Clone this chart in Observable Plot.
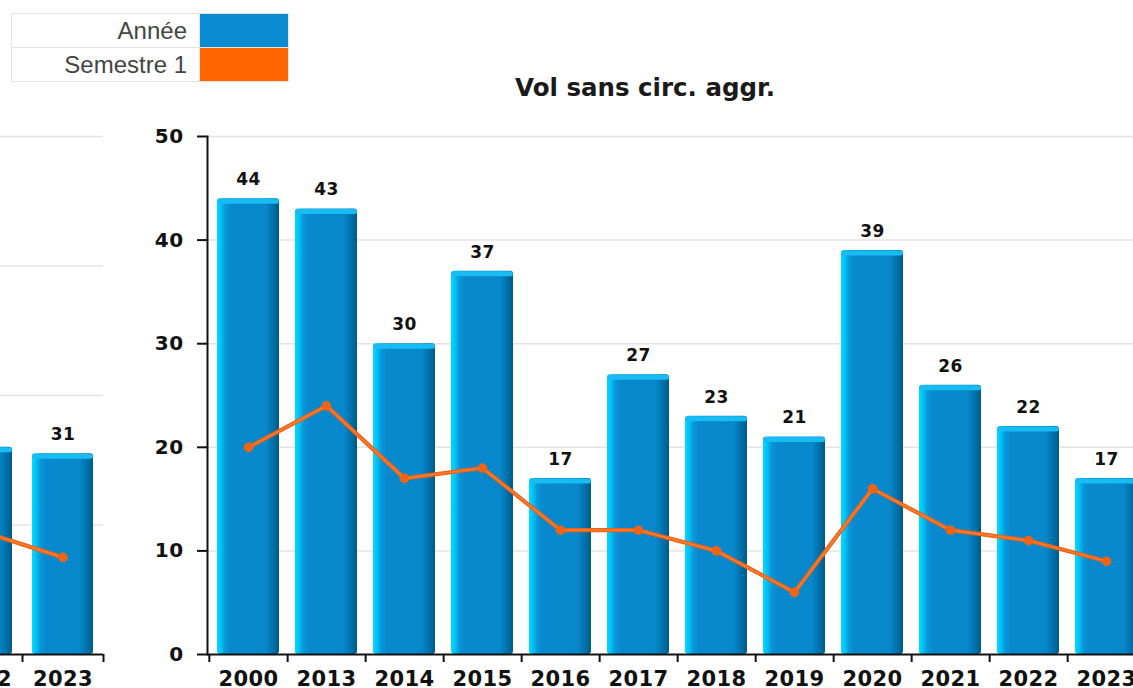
<!DOCTYPE html>
<html><head><meta charset="utf-8">
<script src="https://cdn.jsdelivr.net/npm/d3@7"></script>
<script src="https://cdn.jsdelivr.net/npm/@observablehq/plot@0.6"></script>
<style>
html,body{margin:0;padding:0;background:#fff;overflow:hidden;width:1133px;height:688px;}
#wrap{position:relative;width:1133px;height:688px;overflow:hidden;background:#fff;}
#left{position:absolute;left:-100px;top:0;}
#main{position:absolute;left:0;top:0;}
#title{position:absolute;left:0;width:1290px;top:76px;text-align:center;font:bold 24.5px/24px "DejaVu Sans";color:#1a1a1a;}
#legend{position:absolute;left:11px;top:13px;border-collapse:collapse;font:24px "Liberation Sans",Arial,sans-serif;color:#444;}
#legend td{border:1px solid #e4e4e4;height:33px;padding:0;}
#legend td.lab{width:175px;text-align:right;padding-right:12px;}
#legend td.sw{width:88px;}
</style></head><body>
<div id="wrap">
  <div id="left"></div>
  <div id="main"></div>
  <div id="title">Vol sans circ. aggr.</div>
  <table id="legend"></table>
</div>
<script>
// ---- data ----
const years = ["2000","2013","2014","2015","2016","2017","2018","2019","2020","2021","2022","2023"];
const annee = [44,43,30,37,17,27,23,21,39,26,22,17];
const semestre1 = [20,24,17,18,12,12,10,6,16,12,11,9];
const yTicks = [0,10,20,30,40,50];

const prevYears = ["2022","2023"];
const prevAnnee = [32,31];
const prevSemestre1 = [19,15];
const prevYTicks = [0,20,40,60,80];

const legendLabels = ["Année","Semestre 1"];
const legendColors = ["#0a8bd1","#ff6600"];
const lineColor = "#ef6414";
const lineHighlight = "#ff9a5e";
const capColor = "#17bdf2";

// ---- legend ----
const tbl = document.getElementById("legend");
legendLabels.forEach((l,i)=>{
  const tr = document.createElement("tr");
  const a = document.createElement("td"); a.className="lab"; a.textContent=l;
  const b = document.createElement("td"); b.className="sw"; b.style.background=legendColors[i];
  tr.appendChild(a); tr.appendChild(b); tbl.appendChild(tr);
});

function addGradient(svg, id){
  const ns="http://www.w3.org/2000/svg";
  const defs=document.createElementNS(ns,"defs");
  const g=document.createElementNS(ns,"linearGradient");
  g.setAttribute("id",id); g.setAttribute("x1","0"); g.setAttribute("x2","1"); g.setAttribute("y1","0"); g.setAttribute("y2","0");
  [[0,"#00dcff"],[0.06,"#00c4f8"],[0.14,"#0a95d8"],[0.22,"#0889cd"],[0.78,"#0888cc"],[0.9,"#0072ab"],[1,"#005a88"]].forEach(([o,c])=>{
    const s=document.createElementNS(ns,"stop"); s.setAttribute("offset",o); s.setAttribute("stop-color",c); g.appendChild(s);
  });
  defs.appendChild(g); svg.insertBefore(defs, svg.firstChild);
}

function chart({cats, vals, semi, ticks, ymax, width, marginLeft, marginRight, pIn, pOut, gid, showYAxis}){
  const data = cats.map((c,i)=>({cat:c, v:vals[i], s:semi[i]}));
  const step = (width - marginLeft - marginRight)/cats.length;
  const marks = [
    Plot.gridY({ticks: ticks.slice(1), stroke:"#e4e4e4", strokeOpacity:1, strokeWidth:1.5}),
    Plot.barY(data, {x:"cat", y:"v", fill:`url(#${gid})`, rx:3}),
    Plot.tickY(data, {x:"cat", y:"v", stroke:capColor, strokeWidth:5, dy:2.5, insetLeft:2.5, insetRight:2.5, strokeLinecap:"round"}),
    Plot.text(data, {x:"cat", y:"v", text:d=>String(d.v), dy:-19, fontSize:17, fill:"#111"}),
    Plot.line(data, {x:"cat", y:"s", stroke:lineColor, strokeWidth:4.2}),
    Plot.line(data, {x:"cat", y:"s", stroke:lineHighlight, strokeWidth:1.2, strokeOpacity:0.55}),
    Plot.dot(data, {x:"cat", y:"s", r:4.8, fill:lineColor}),
    Plot.ruleY([0], {stroke:"#111", strokeWidth:2}),
    Plot.axisX({tickSize:0, tickPadding:17, fontSize:21}),
    Plot.axisX({tickSize:8, tickFormat:()=>"", dx: step/2, strokeWidth:2}),
    Plot.axisX({ticks:[cats[0]], tickSize:8, tickFormat:()=>"", dx: -step/2, strokeWidth:2})
  ];
  if (showYAxis) {
    marks.push(Plot.axisY({ticks, tickSize:10, tickPadding:14, fontSize:20, strokeWidth:2}));
    marks.push(Plot.frame({anchor:"left", stroke:"#111", strokeWidth:2}));
  }
  const svg = Plot.plot({
    width, height:700,
    marginLeft, marginRight, marginTop:136, marginBottom:46,
    style:{background:"transparent", maxWidth:"none", overflow:"visible", fontFamily:"DejaVu Sans", fontWeight:"bold", color:"#111", fontSize:"20px", letterSpacing:"0.4px"},
    x:{domain:cats, paddingInner:pIn, paddingOuter:pOut, label:null},
    y:{domain:[0,ymax], label:null},
    marks
  });
  // drop the empty label nodes of the boundary-tick axes
  svg.querySelectorAll("text").forEach(t => { if (!t.textContent.trim()) t.remove(); });
  addGradient(svg, gid);
  return svg;
}

document.getElementById("main").appendChild(chart({
  cats:years, vals:annee, semi:semestre1, ticks:yTicks, ymax:50,
  width:1160, marginLeft:207, marginRight:13, pIn:0.2, pOut:0.1, gid:"gMain", showYAxis:true
}));
document.getElementById("left").appendChild(chart({
  cats:prevYears, vals:prevAnnee, semi:prevSemestre1, ticks:prevYTicks, ymax:80,
  width:213, marginLeft:41, marginRight:10, pIn:0.25, pOut:0.125, gid:"gLeft", showYAxis:false
}));
</script>
</body></html>
